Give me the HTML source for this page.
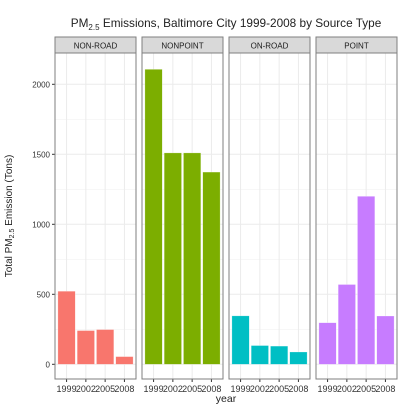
<!DOCTYPE html>
<html><head><meta charset="utf-8"><style>
body{margin:0;background:#fff;}
svg{display:block;font-family:"Liberation Sans",Arial,sans-serif;}
</style></head><body>
<svg id="chart" width="415" height="415" viewBox="0 0 415 415">
<rect width="415" height="415" fill="#fff"/>
<text x="226" y="27" font-size="11.8" text-anchor="middle" fill="#222">PM<tspan font-size="8" dy="3">2.5</tspan><tspan dy="-3"> Emissions, Baltimore City 1999-2008 by Source Type</tspan></text>
<text x="226" y="402" font-size="10.5" text-anchor="middle" fill="#222">year</text>
<text transform="translate(12,216) rotate(-90)" font-size="10" text-anchor="middle" fill="#222">Total PM<tspan font-size="7" dy="2">2.5</tspan><tspan dy="-2"> Emission (Tons)</tspan></text>
<g id="plot"></g>
</svg>
<script>
const panels = ["NON-ROAD","NONPOINT","ON-ROAD","POINT"];
const years = ["1999","2002","2005","2008"];
const nonRoad = [522,241,248,55];
const nonPoint = [2107,1510,1510,1373];
const onRoad = [346,134,130,88];
const point = [297,570,1200,345];
const seriesValues = [nonRoad, nonPoint, onRoad, point];
const colors = ["#F8766D","#7CAE00","#00BFC4","#C77CFF"];
const yTicks = [0,500,1000,1500,2000];
const yMinor = [250,750,1250,1750];

const NS="http://www.w3.org/2000/svg";
const g=document.getElementById('plot');
const panelX=[55,142,229,316], panelW=81, plotTop=53, plotBottom=379, stripTop=37;
const y0=364.3, yScale=0.14;
function y(v){return y0-v*yScale;}
function xCat(p,i){return panelX[p]+(i+1-0.4)*(panelW/4.2);}
function mk(tag,attrs){const e=document.createElementNS(NS,tag);for(const k in attrs)e.setAttribute(k,attrs[k]);g.appendChild(e);return e;}

yTicks.forEach(t=>{
  const l=mk('text',{x:50,y:y(t)+3,'font-size':8,'text-anchor':'end',fill:'#333'});
  l.textContent=t;
  
  
  const tk=mk('line',{x1:52,x2:55,y1:y(t),y2:y(t),stroke:'#333','stroke-width':1});
  
  
});

panels.forEach((name,p)=>{
  const px=panelX[p];
  const bg=mk('rect',{x:px,y:plotTop,width:panelW,height:plotBottom-plotTop,fill:'#fff'});
  
  
  yMinor.forEach(t=>{const l=mk('line',{x1:px,x2:px+panelW,y1:y(t),y2:y(t),stroke:'#f2f2f2','stroke-width':0.6});
    });
  yTicks.forEach(t=>{const l=mk('line',{x1:px,x2:px+panelW,y1:y(t),y2:y(t),stroke:'#ebebeb','stroke-width':1});
    });
  years.forEach((yr,i)=>{const cx=xCat(p,i);
    const l=mk('line',{x1:cx,x2:cx,y1:plotTop,y2:plotBottom,stroke:'#ebebeb','stroke-width':1});
    });
  const bw=0.9*panelW/4.2;
  seriesValues[p].forEach((v,i)=>{const cx=xCat(p,i);
    const b=mk('rect',{x:cx-bw/2,y:y(v),width:bw,height:y(0)-y(v),fill:colors[p],stroke:'#fff','stroke-opacity':0.5,'stroke-width':0.5});
    
    });
  years.forEach((yr,i)=>{const cx=xCat(p,i);
    const tk=mk('line',{x1:cx,x2:cx,y1:plotBottom,y2:plotBottom+3,stroke:'#333','stroke-width':1});
    
    const t=mk('text',{x:cx,y:plotBottom+13,'font-size':9,'text-anchor':'middle',fill:'#333'});
    t.textContent=yr;
    });
  const br=mk('rect',{x:px,y:plotTop,width:panelW,height:plotBottom-plotTop,fill:'none',stroke:'#7f7f7f','stroke-width':1});
  
  const st=mk('rect',{x:px,y:stripTop,width:panelW,height:plotTop-stripTop,fill:'#d9d9d9',stroke:'#7f7f7f','stroke-width':1});
  
  const sl=mk('text',{x:px+panelW/2,y:stripTop+11.5,'font-size':8,'text-anchor':'middle',fill:'#1a1a1a'});
  sl.textContent=name;
  
});
</script>
</body></html>
